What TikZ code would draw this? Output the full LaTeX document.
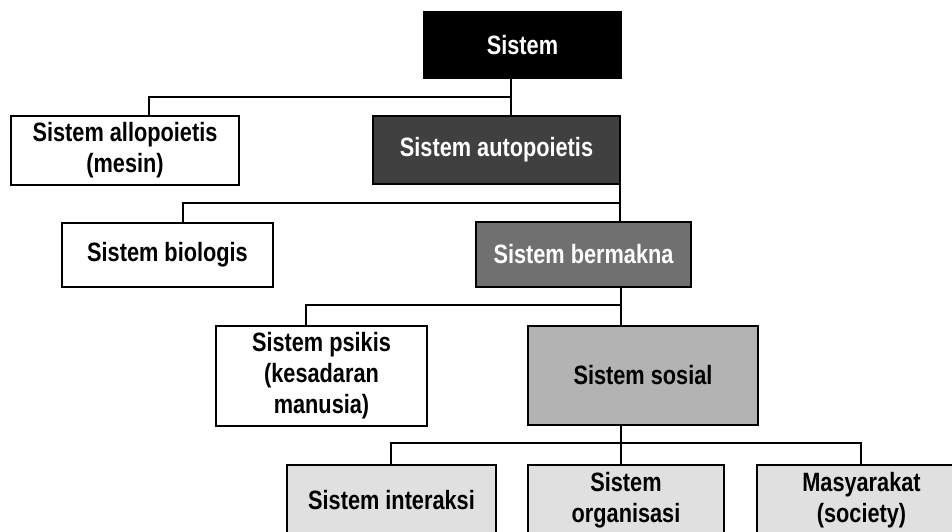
\documentclass[tikz,border=0pt]{standalone}
\usepackage{fontspec}
\setmainfont{Liberation Sans}[FakeStretch=0.82]
\usetikzlibrary{backgrounds}
\definecolor{autoc}{HTML}{404040}
\definecolor{bermc}{HTML}{707070}
\definecolor{sosc}{HTML}{B3B3B3}
\definecolor{lowc}{HTML}{E0E0E0}
\tikzset{
  box/.style={draw=black, line width=2.8pt, inner sep=0pt, outer sep=0pt,
    align=center, font=\fontsize{26.5}{31}\selectfont\bfseries},
  conn/.style={draw=black, line width=1.7pt},
}
\begin{document}
\begin{tikzpicture}[x=1pt,y=-1pt]
\useasboundingbox (0,0) rectangle (952,531);
\clip (0,0) rectangle (952,531);
% nodes
\node[box, fill=black, text=white, minimum width=197pt, minimum height=66pt] (sistem) at (522.5,45) {Sistem};
\node[box, fill=white, minimum width=228pt, minimum height=69pt] (allo) at (125,150.5) {Sistem allopoietis\\(mesin)};
\node[box, fill=autoc, text=white, minimum width=247pt, minimum height=68pt] (auto) at (496.5,150) {Sistem autopoietis};
\node[box, fill=white, minimum width=211pt, minimum height=64pt] (bio) at (167.5,255) {Sistem biologis};
\node[box, fill=bermc, text=white, minimum width=215pt, minimum height=65pt] (berm) at (583.5,254.5) {Sistem bermakna};
\node[box, fill=white, minimum width=211pt, minimum height=100pt] (psi) at (321.5,376) {Sistem psikis\\(kesadaran\\manusia)};
\node[box, fill=sosc, minimum width=230pt, minimum height=99pt] (sos) at (643,375.5) {Sistem sosial};
\node[box, fill=lowc, minimum width=209pt, minimum height=70pt] (inter) at (391.5,500) {Sistem interaksi};
\node[box, fill=lowc, minimum width=196pt, minimum height=70pt] (org) at (626,500) {Sistem\\organisasi};
\node[box, fill=lowc, minimum width=209pt, minimum height=70pt] (mas) at (861.5,500) {Masyarakat\\(society)};
% junctions
\coordinate (a1) at (149,97);  \coordinate (a2) at (511,97);
\coordinate (b1) at (183,203); \coordinate (b2) at (620,203);
\coordinate (c1) at (306,305); \coordinate (c2) at (621,305);
\coordinate (d1) at (391,443); \coordinate (d2) at (621,443); \coordinate (d3) at (861,443);
\begin{scope}[on background layer]
\fill[white] (0,0) rectangle (952,531);
\draw[conn] (sistem.south -| a2) -- (auto.north -| a2);
\draw[conn] (a2) -- (a1) -- (allo.north -| a1);
\draw[conn] (auto.south -| b2) -- (berm.north -| b2);
\draw[conn] (b2) -- (b1) -- (bio.north -| b1);
\draw[conn] (berm.south -| c2) -- (sos.north -| c2);
\draw[conn] (c2) -- (c1) -- (psi.north -| c1);
\draw[conn] (sos.south -| d2) -- (org.north -| d2);
\draw[conn] (inter.north -| d1) -- (d1) -- (d3) -- (mas.north -| d3);
\end{scope}
\end{tikzpicture}
\end{document}
